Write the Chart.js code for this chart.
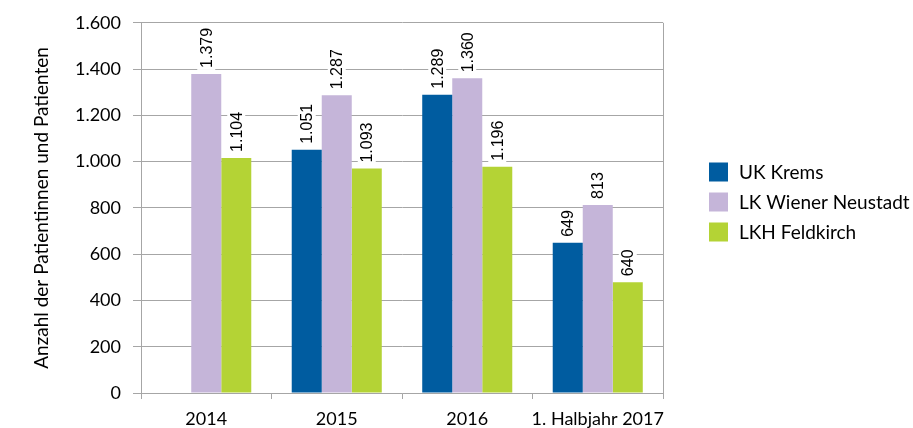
<!DOCTYPE html>
<html>
<head>
<meta charset="utf-8">
<script src="https://cdn.jsdelivr.net/npm/chart.js@4/dist/chart.umd.min.js"></script>
<style>
  body { margin: 0; background: #fff; }
</style>
</head>
<body>
<canvas id="grafico" width="913" height="428"></canvas>
<script>
// Daten
const kategorien = ['2014', '2015', '2016', '1. Halbjahr 2017'];
const ukKrems = [null, 1051, 1289, 649];
const lkWienerNeustadt = [1379, 1287, 1360, 813];
// Balkenhöhen wie im Bild gezeichnet, Beschriftungen weichen davon ab
const lkhFeldkirch = [1016, 970, 978, 479];
const lkhFeldkirchBeschriftung = [1104, 1093, 1196, 640];
const yTicks = [0, 200, 400, 600, 800, 1000, 1200, 1400, 1600];

const farben = ['#005ca0', '#c5b5d9', '#b4d335'];

const fmt = v => String(v).replace(/\B(?=(\d{3})+(?!\d))/g, '.');

const werteLabels = {
  id: 'werteLabels',
  afterDatasetsDraw(chart) {
    const ctx = chart.ctx;
    ctx.save();
    ctx.font = '16px "Liberation Sans"';
    chart.data.datasets.forEach((ds, i) => {
      const meta = chart.getDatasetMeta(i);
      meta.data.forEach((bar, j) => {
        const wert = ds.beschriftung ? ds.beschriftung[j] : ds.data[j];
        if (wert == null || ds.data[j] == null) return;
        const s = fmt(wert);
        const w = ctx.measureText(s).width;
        ctx.save();
        ctx.translate(bar.x, bar.y - 6);
        ctx.rotate(-Math.PI / 2);
        ctx.fillStyle = '#fff';
        ctx.fillRect(-2, -9, w + 4, 18);
        ctx.fillStyle = '#000';
        ctx.textAlign = 'left';
        ctx.textBaseline = 'middle';
        ctx.fillText(s, 0, 1);
        ctx.restore();
      });
    });
    ctx.restore();
  }
};

const rahmenRechts = {
  id: 'rahmenRechts',
  beforeDatasetsDraw(chart) {
    const { ctx, chartArea } = chart;
    ctx.save();
    ctx.strokeStyle = '#a6a6a6';
    ctx.lineWidth = 1;
    ctx.beginPath();
    ctx.moveTo(chartArea.right + 0.5, chartArea.top);
    ctx.lineTo(chartArea.right + 0.5, chartArea.bottom + 6);
    ctx.stroke();
    ctx.restore();
  }
};

const legende = {
  id: 'legende',
  afterDraw(chart) {
    const { ctx, chartArea } = chart;
    ctx.save();
    ctx.font = '19px Lato';
    ctx.textBaseline = 'middle';
    chart.data.datasets.forEach((ds, i) => {
      const y = 172 + i * 30;
      const x = chartArea.right + 46;
      ctx.fillStyle = ds.backgroundColor;
      ctx.fillRect(x, y - 9.5, 19, 19);
      ctx.fillStyle = '#000';
      ctx.fillText(ds.label, x + 30, y + 1);
    });
    ctx.restore();
  }
};

new Chart(document.getElementById('grafico'), {
  type: 'bar',
  data: {
    labels: kategorien,
    datasets: [
      { label: 'UK Krems', data: ukKrems, backgroundColor: farben[0] },
      { label: 'LK Wiener Neustadt', data: lkWienerNeustadt, backgroundColor: farben[1] },
      { label: 'LKH Feldkirch', data: lkhFeldkirch, beschriftung: lkhFeldkirchBeschriftung, backgroundColor: farben[2] }
    ]
  },
  options: {
    responsive: false,
    animation: false,
    layout: { padding: { left: 26, top: 22, right: 250, bottom: 0 } },
    datasets: { bar: { categoryPercentage: 0.69, barPercentage: 1 } },
    plugins: { legend: { display: false }, tooltip: { enabled: false } },
    scales: {
      x: {
        grid: { drawOnChartArea: false, tickLength: 6, tickColor: '#a6a6a6' },
        border: { color: '#a6a6a6' },
        ticks: { color: '#000', font: { family: 'Lato', size: 18 }, padding: 9, maxRotation: 0, autoSkip: false },
        afterFit: s => { s.height = 35; }
      },
      y: {
        min: 0, max: 1600,
        afterBuildTicks: s => { s.ticks = yTicks.map(v => ({ value: v })); },
        grid: { color: '#a6a6a6', tickLength: 8 },
        border: { color: '#a6a6a6' },
        ticks: { color: '#000', font: { family: 'Lato', size: 18 }, padding: 12, callback: v => fmt(v) },
        title: { display: true, text: 'Anzahl der Patientinnen und Patienten', color: '#000', font: { family: 'Lato', size: 19 } },
        afterFit: s => { s.width = 115; }
      }
    }
  },
  plugins: [werteLabels, rahmenRechts, legende]
});
</script>
</body>
</html>
